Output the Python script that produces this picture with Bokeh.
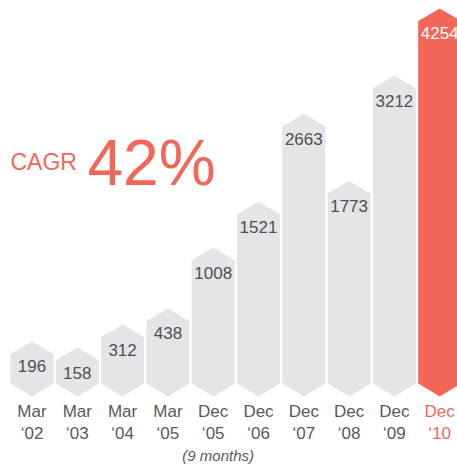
from bokeh.plotting import figure
from bokeh.models import ColumnDataSource, Range1d, Label
from bokeh.core.properties import value
from bokeh.embed import file_html
from bokeh.resources import INLINE

# ---- data ----
periods = ["Mar", "Mar", "Mar", "Mar", "Dec", "Dec", "Dec", "Dec", "Dec", "Dec"]
years = ["\u201802", "\u201803", "\u201804", "\u201805", "\u201805", "\u201806",
         "\u201807", "\u201808", "\u201809", "\u201810"]
values = [196, 158, 312, 438, 1008, 1521, 2663, 1773, 3212, 4254]
notes = ["", "", "", "", "(9 months)", "", "", "", "", ""]
cagr_label = "CAGR"
cagr_value = "42%"

# ---- style ----
FONT = "Liberation Sans"
GRAY = "#e5e5e7"
RED = "#f26757"
TXT = "#4f4f51"
W, H = 457, 464
PITCH = 45.3          # px per category
X0 = 31.5             # px centre of first bar
BASE_PX = 396         # px of bottom tip from top
TIP = 12.5
HALF = 21.5 / PITCH


def scale(v):
    # display transform used by the infographic (non-linear height)
    return 11.4 + 1.086 * v ** 0.7


idx = list(range(len(values)))
xs, ys = [], []
for i, v in zip(idx, values):
    h = scale(v)
    xs.append([i - HALF, i, i + HALF, i + HALF, i, i - HALF])
    ys.append([h - TIP, h, h - TIP, 13, 0, 13])

bar_colors = [GRAY] * (len(values) - 1) + [RED]
val_colors = [TXT] * (len(values) - 1) + ["#ffffff"]
cat_colors = ["#59595b"] * (len(values) - 1) + [RED]

bars = ColumnDataSource(dict(xs=xs, ys=ys, color=bar_colors))
labels = ColumnDataSource(dict(
    x=idx, y=[scale(v) - 25 for v in values], text=[str(v) for v in values],
    color=val_colors,
    y1=[-(411 - BASE_PX)] * len(values), y2=[-(433 - BASE_PX)] * len(values),
    y3=[-(455 - BASE_PX)] * len(values),
    per=periods, yr=years, note=notes, ccolor=cat_colors,
))

xstart = -X0 / PITCH
p = figure(width=W, height=H, output_backend="svg", toolbar_location=None,
           x_range=Range1d(xstart, xstart + W / PITCH),
           y_range=Range1d(-(H - BASE_PX), BASE_PX),
           min_border=0, outline_line_color=None)
p.axis.visible = False
p.grid.visible = False
p.background_fill_color = "white"
p.border_fill_color = "white"

p.patches("xs", "ys", source=bars, fill_color="color", line_color=None)

p.text(x="x", y="y", text="text", source=labels, text_align="center",
       text_baseline="middle", text_font=value(FONT), text_font_size="17px",
       text_color="color")
p.text(x="x", y="y1", text="per", source=labels, text_align="center",
       text_baseline="middle", text_font=value(FONT), text_font_size="17px",
       text_color="ccolor")
p.text(x="x", y="y2", text="yr", source=labels, text_align="center",
       text_baseline="middle", text_font=value(FONT), text_font_size="17px",
       text_color="ccolor")
p.text(x="x", y="y3", text="note", source=labels, text_align="center",
       text_baseline="middle", text_font=value(FONT), text_font_size="15px",
       text_font_style="italic", text_color="#59595b", x_offset=5)

p.add_layout(Label(x=10, y=H - 161, x_units="screen", y_units="screen",
                   text=cagr_label, text_font=FONT, text_font_size="23px",
                   text_color=RED, text_baseline="alphabetic"))
p.add_layout(Label(x=87, y=H - 162, x_units="screen", y_units="screen",
                   text=cagr_value, text_font=FONT, text_font_size="64px",
                   text_color=RED, text_baseline="alphabetic"))

open("out.html", "w").write(file_html(p, INLINE))
